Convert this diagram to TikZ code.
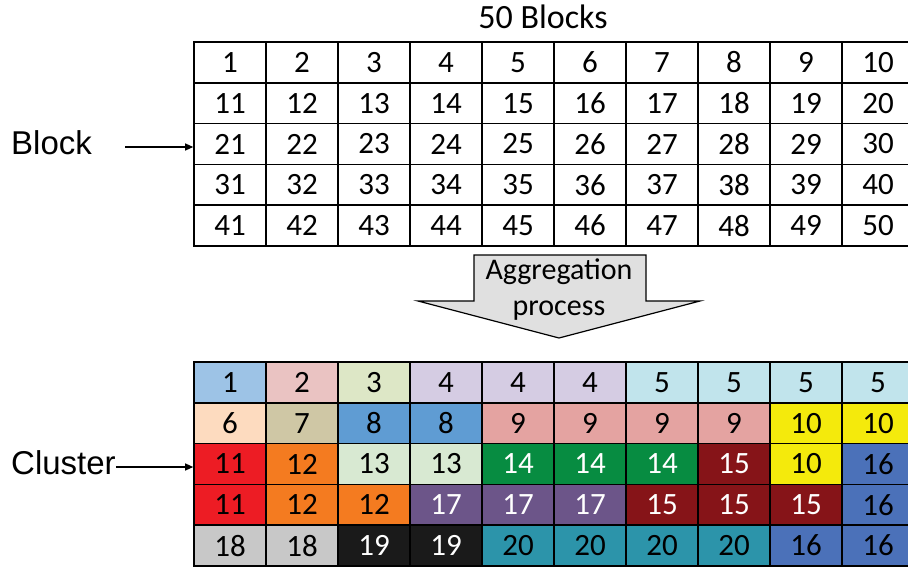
\documentclass[tikz,border=0pt]{standalone}
\usepackage{fontspec}
\setmainfont{Carlito}
\newfontfamily\arialfont{Liberation Sans}
\usetikzlibrary{arrows.meta}
\definecolor{cA}{HTML}{9DC3E6}
\definecolor{cB}{HTML}{EAC3C2}
\definecolor{cC}{HTML}{DDE7C6}
\definecolor{cD}{HTML}{D5CCE3}
\definecolor{cE}{HTML}{C1E4EC}
\definecolor{cF}{HTML}{FDDBBF}
\definecolor{cG}{HTML}{CFC7A5}
\definecolor{cH}{HTML}{5F9CD3}
\definecolor{cI}{HTML}{E4A3A1}
\definecolor{cJ}{HTML}{F4EA0C}
\definecolor{cK}{HTML}{ED1C24}
\definecolor{cL}{HTML}{F47B20}
\definecolor{cM}{HTML}{D8E9D2}
\definecolor{cN}{HTML}{078C41}
\definecolor{cO}{HTML}{861418}
\definecolor{cP}{HTML}{4B71B9}
\definecolor{cQ}{HTML}{6C5589}
\definecolor{cR}{HTML}{C8C8C8}
\definecolor{cS}{HTML}{1A1A1A}
\definecolor{cT}{HTML}{2C94AA}
\definecolor{arrowgray}{HTML}{E0E0E0}
\begin{document}
\begin{tikzpicture}[x=1pt,y=-1pt,
  cellbox/.style={draw=black,line width=1.6pt,minimum width=72pt,minimum height=40.8pt,
    inner sep=0pt,font=\fontsize{31}{34}\selectfont,anchor=center},
  sidelabel/.style={font=\arialfont\fontsize{33}{36}\selectfont,inner sep=0pt,anchor=west},
  pointer/.style={line width=1.2pt,-{Triangle[length=8pt,width=7pt]}},
  bigarrow/.style={draw=black,line width=1.2pt,fill=arrowgray,line join=miter}]
\useasboundingbox (0,0) rectangle (908,571);
\clip (0,0) rectangle (908,571);
\node[font=\fontsize{34}{36}\selectfont,inner sep=0pt] (title) at (543,17) {50 Blocks};
% top grid
\foreach \r in {1,...,5}{
  \foreach \c in {1,...,10}{
    \pgfmathtruncatemacro{\n}{(\r-1)*10+\c}
    \node[cellbox] (t-\r-\c) at ({194+72*(\c-0.5)},{42+40.8*(\r-0.5)}) {\n};
  }
}
% labels
\node[sidelabel] (blk) at (11,143) {Block};
\coordinate (bstart) at (125,147);
\draw[pointer] (bstart) -- (bstart -| t-3-1.west);
% aggregation arrow
\coordinate (agtip) at (559,338);
\path[bigarrow] (474,255) -- (646,255) -- (646,301) -- (700,301) -- (agtip) -- (418,301) -- (474,301) -- cycle;
\node[font=\fontsize{30}{36}\selectfont,align=center,inner sep=0pt] (agg) at (559,290) {Aggregation\\process};
% bottom grid
\foreach \r/\row in {
 1/{cA/1/black,cB/2/black,cC/3/black,cD/4/black,cD/4/black,cD/4/black,cE/5/black,cE/5/black,cE/5/black,cE/5/black},
 2/{cF/6/black,cG/7/black,cH/8/black,cH/8/black,cI/9/black,cI/9/black,cI/9/black,cI/9/black,cJ/10/black,cJ/10/black},
 3/{cK/11/black,cL/12/black,cM/13/black,cM/13/black,cN/14/white,cN/14/white,cN/14/white,cO/15/white,cJ/10/black,cP/16/black},
 4/{cK/11/black,cL/12/black,cL/12/black,cQ/17/white,cQ/17/white,cQ/17/white,cO/15/white,cO/15/white,cO/15/white,cP/16/black},
 5/{cR/18/black,cR/18/black,cS/19/white,cS/19/white,cT/20/black,cT/20/black,cT/20/black,cT/20/black,cP/16/black,cP/16/black}}{
  \foreach \col/\num/\tc [count=\c] in \row {
    \node[cellbox,fill=\col,text=\tc] (b-\r-\c) at ({194+72*(\c-0.5)},{362+40.8*(\r-0.5)}) {\num};
  }
}
\node[sidelabel] (clu) at (11,463) {Cluster};
\coordinate (cstart) at (clu.east |- 0,467);
\draw[pointer] (cstart) -- (cstart -| b-3-1.west);
\end{tikzpicture}
\end{document}
